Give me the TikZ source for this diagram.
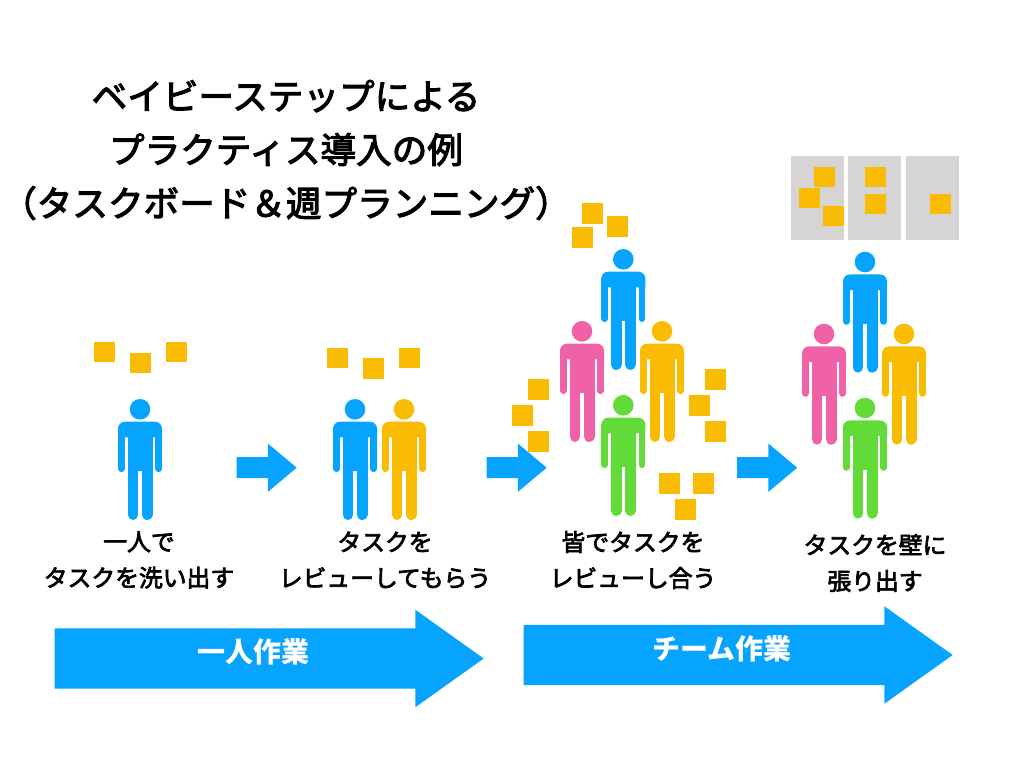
\documentclass[tikz,border=0pt]{standalone}
\usepackage{fontspec}
\setmainfont{Noto Sans CJK JP}
\newfontfamily\medfont{Noto Sans CJK JP}[FakeBold=3]
\usetikzlibrary{arrows,shapes,positioning}

\definecolor{teamblue}{HTML}{06A3FF}
\definecolor{teampink}{HTML}{F062A8}
\definecolor{teamgold}{HTML}{F9BC02}
\definecolor{teamgreen}{HTML}{62DA38}
\definecolor{boardgrey}{HTML}{D6D4D5}

\tikzset{
  person/.pic={
    \fill[#1] (0,0) circle (10.3);
    \fill[#1] (-22,28) [rounded corners=7pt] -- (-22,12.4) -- (22,12.4) [sharp corners] -- (22,28) -- cycle;
    \fill[#1] (-12.5,20) rectangle (12.5,62);
    \draw[#1, line width=6.7pt, line cap=round] (-18.65,20) -- (-18.65,59.4);
    \draw[#1, line width=6.7pt, line cap=round] (18.65,20) -- (18.65,59.4);
    \draw[#1, line width=10.8pt, line cap=round] (-7.1,55) -- (-7.1,105.3);
    \draw[#1, line width=10.8pt, line cap=round] (7.1,55) -- (7.1,105.3);
  },
  note/.style={fill=teamgold, minimum width=21pt, minimum height=20.5pt, inner sep=0pt},
  panel/.style={fill=boardgrey, minimum width=53pt, minimum height=84pt, inner sep=0pt},
  step arrow/.style={single arrow, anchor=tip, fill=teamblue, inner xsep=0pt, inner ysep=10.3pt, minimum height=60pt,
    minimum width=48pt, single arrow head extend=13.7pt, single arrow tip angle=80,
    single arrow head indent=0pt},
  phase arrow/.style={single arrow, anchor=tip, fill=teamblue, inner xsep=0pt, inner ysep=30pt, minimum height=429pt,
    minimum width=97pt, single arrow head extend=18.5pt, single arrow tip angle=71,
    single arrow head indent=0pt},
  caption/.style={align=center, inner sep=0pt, font=\medfont\fontsize{23.8}{36}\selectfont},
  phase label/.style={inner sep=0pt, text=white, font=\fontsize{28}{34}\selectfont\bfseries},
}

\begin{document}
\begin{tikzpicture}[x=1pt, y=-1pt]
  \useasboundingbox (0,0) rectangle (1024,768);

  % title
  \node[align=center, inner sep=0pt, font=\medfont\fontsize{35.6}{53.5}\selectfont] (title) at (286,150)
    {ベイビーステップによる\\プラクティス導入の例\\（タスクボード＆週プランニング）};

  % board
  \node[panel] (todo) at (817.5,198) {};
  \node[panel] (doing) at (874.8,198) {};
  \node[panel] (done) at (932.2,198) {};

  % sticky notes
  \foreach \x/\y [count=\i] in {104.5/352, 140.3/363, 176/352,
      337/358, 373/368.5, 409/358,
      592.3/213.3, 617.7/226.3, 582/237.3,
      538.3/389.3, 522/415.3, 538.3/441.3,
      715.3/379.3, 699/405.3, 715.3/431.3,
      669/483.3, 703/483.3, 685.3/509.3,
      824/177, 809.3/198, 833.7/216, 875/177, 875/204, 940/204}
    \node[note] (note\i) at (\x,\y) {};

  % people
  \pic at (140,409.3) {person=teamblue};
  \pic at (355,409.3) {person=teamblue};
  \pic at (404,409.3) {person=teamgold};
  \pic at (623.3,259.3) {person=teamblue};
  \pic at (582,331.3) {person=teampink};
  \pic at (662,331.3) {person=teamgold};
  \pic at (623.3,405.3) {person=teamgreen};
  \pic at (865,262) {person=teamblue};
  \pic at (824,334) {person=teampink};
  \pic at (904,334) {person=teamgold};
  \pic at (865,408) {person=teamgreen};

  % arrows between steps
  \node[step arrow] (next1) at (297,467.7) {};
  \node[step arrow] (next2) at (547,467.7) {};
  \node[step arrow] (next3) at (797.5,467.7) {};

  % captions
  \node[caption] (cap1) at (139,560) {一人で\\タスクを洗い出す};
  \node[caption] (cap2) at (385,560) {タスクを\\レビューしてもらう};
  \node[caption] (cap3) at (633,560) {皆でタスクを\\レビューし合う};
  \node[caption] (cap4) at (875,563) {タスクを壁に\\張り出す};

  % phases
  \node[phase arrow] (solo) at (484,658.5) {};
  \node[phase arrow] (team) at (953,655) {};
  \node[phase label] (sololabel) at (253,652) {一人作業};
  \node[phase label] (teamlabel) at (722,649) {チーム作業};
\end{tikzpicture}
\end{document}
